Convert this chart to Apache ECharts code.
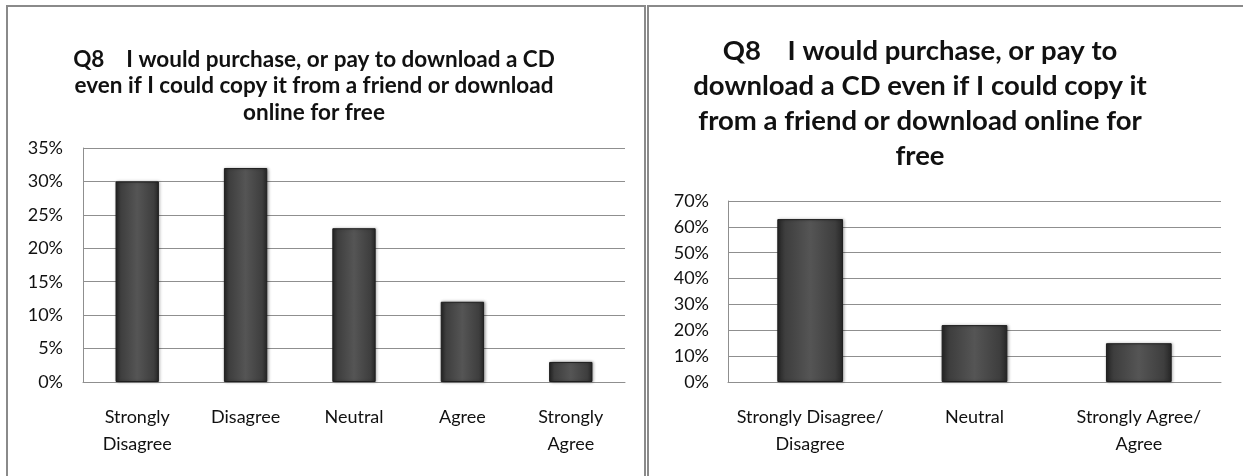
<!DOCTYPE html>
<html>
<head>
<meta charset="utf-8">
<script src="https://cdn.jsdelivr.net/npm/echarts@6/dist/echarts.min.js"></script>
<style>
html,body{margin:0;padding:0;background:#fff;}
#chart{width:1243px;height:476px;}
</style>
</head>
<body>
<div id="chart"></div>
<script>
var titleLeft = "Q8    I would purchase, or pay to download a CD\neven if I could copy it from a friend or download\nonline for free";
var titleRight = "Q8    I would purchase, or pay to\ndownload a CD even if I could copy it\nfrom a friend or download online for\nfree";
var categoriesLeft = ["Strongly\nDisagree", "Disagree", "Neutral", "Agree", "Strongly\nAgree"];
var valuesLeft = [30, 32, 23, 12, 3];
var categoriesRight = ["Strongly Disagree/\nDisagree", "Neutral", "Strongly Agree/\nAgree"];
var valuesRight = [63, 22, 15];
var yTicksLeft = {min: 0, max: 35, interval: 5};
var yTicksRight = {min: 0, max: 70, interval: 10};

var FONT = "Lato, 'Open Sans', sans-serif";
var barColor = new echarts.graphic.LinearGradient(0, 0, 1, 0, [
  {offset: 0, color: '#262626'},
  {offset: 0.12, color: '#3e3e3e'},
  {offset: 0.5, color: '#555555'},
  {offset: 0.88, color: '#3e3e3e'},
  {offset: 1, color: '#262626'}
]);
var gridLine = {show: true, lineStyle: {color: '#8f8f8f', width: 1}};
var axisLbl = {color: '#111', fontFamily: FONT, fontSize: 18};

var chart = echarts.init(document.getElementById('chart'), null, {renderer: 'canvas'});
chart.setOption({
  backgroundColor: '#fff',
  animation: false,
  graphic: [
    {type: 'rect', shape: {x: 7, y: 6, width: 638, height: 490}, style: {fill: 'none', stroke: '#8a8a8a', lineWidth: 2}, z: 100},
    {type: 'rect', shape: {x: 648, y: 6, width: 620, height: 490}, style: {fill: 'none', stroke: '#8a8a8a', lineWidth: 2}, z: 100}
  ],
  title: [
    {text: titleLeft, left: 309, top: 41, textAlign: 'center',
     textStyle: {fontFamily: FONT, fontSize: 22.5, fontWeight: 'bold', color: '#111', lineHeight: 26.5, align: 'center'}},
    {text: titleRight, left: 915, top: 29, textAlign: 'center',
     textStyle: {fontFamily: FONT, fontSize: 27.5, fontWeight: 'bold', color: '#111', lineHeight: 35, align: 'center'}}
  ],
  grid: [
    {left: 83, right: 618, top: 148, bottom: 94},
    {left: 728, right: 22, top: 201, bottom: 94}
  ],
  xAxis: [
    {type: 'category', gridIndex: 0, data: categoriesLeft,
     axisLine: {lineStyle: {color: '#8f8f8f'}}, axisTick: {show: false},
     axisLabel: Object.assign({margin: 22, lineHeight: 26.5, interval: 0}, axisLbl)},
    {type: 'category', gridIndex: 1, data: categoriesRight,
     axisLine: {lineStyle: {color: '#8f8f8f'}}, axisTick: {show: false},
     axisLabel: Object.assign({margin: 22, lineHeight: 26.5, interval: 0}, axisLbl)}
  ],
  yAxis: [
    {type: 'value', gridIndex: 0, min: yTicksLeft.min, max: yTicksLeft.max, interval: yTicksLeft.interval,
     axisLine: {show: true, lineStyle: {color: '#8f8f8f'}}, axisTick: {show: false}, splitLine: gridLine,
     axisLabel: Object.assign({margin: 20, formatter: '{value}%'}, axisLbl)},
    {type: 'value', gridIndex: 1, min: yTicksRight.min, max: yTicksRight.max, interval: yTicksRight.interval,
     axisLine: {show: true, lineStyle: {color: '#8f8f8f'}}, axisTick: {show: false}, splitLine: gridLine,
     axisLabel: Object.assign({margin: 19, formatter: '{value}%'}, axisLbl)}
  ],
  series: [
    {type: 'bar', xAxisIndex: 0, yAxisIndex: 0, data: valuesLeft, barWidth: '40%',
     itemStyle: {color: barColor, borderColor: '#1e1e1e', borderWidth: 1, shadowColor: 'rgba(0,0,0,0.35)', shadowBlur: 3, shadowOffsetX: 1}},
    {type: 'bar', xAxisIndex: 1, yAxisIndex: 1, data: valuesRight, barWidth: '40%',
     itemStyle: {color: barColor, borderColor: '#1e1e1e', borderWidth: 1, shadowColor: 'rgba(0,0,0,0.35)', shadowBlur: 3, shadowOffsetX: 1}}
  ]
});
</script>
</body>
</html>
